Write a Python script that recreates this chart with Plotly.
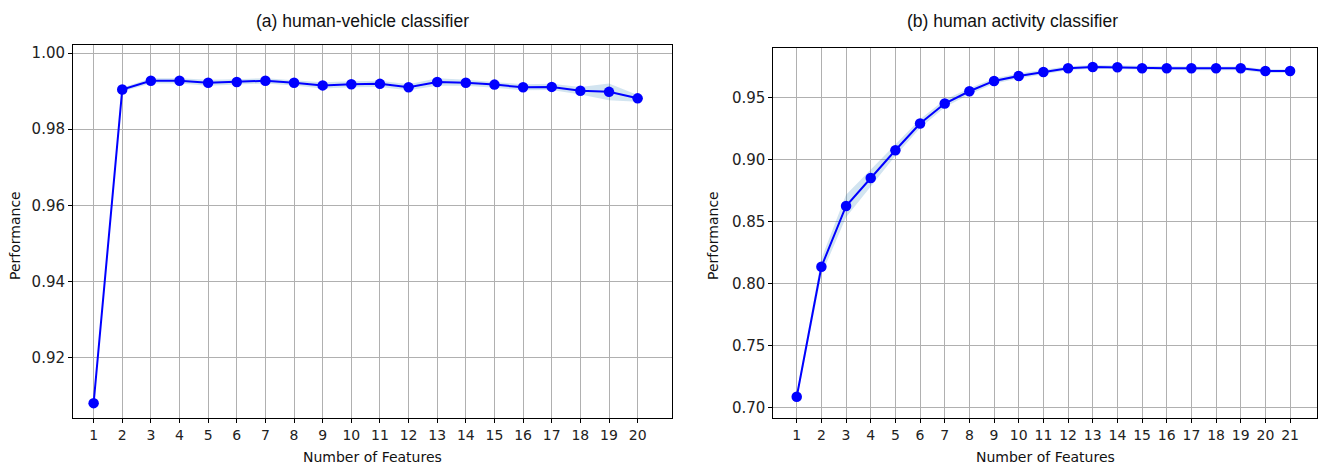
import plotly.graph_objects as go

# ---- data ----
features_a = list(range(1, 21))
perf_a = [0.9081, 0.9904, 0.9927, 0.9927, 0.9922, 0.9924, 0.9927, 0.9922, 0.9915, 0.9918,
          0.9919, 0.9910, 0.9924, 0.9922, 0.9917, 0.9910, 0.9911, 0.9901, 0.9898, 0.9881]
std_a = [0.0003, 0.0005, 0.0007, 0.0007, 0.0008, 0.0007, 0.0007, 0.0007, 0.0008, 0.0008,
         0.0008, 0.0008, 0.0010, 0.0008, 0.0008, 0.0008, 0.0008, 0.0010, 0.0022, 0.0009]

features_b = list(range(1, 22))
perf_b = [0.7089, 0.8136, 0.8625, 0.8850, 0.9074, 0.9289, 0.9450, 0.9549, 0.9632, 0.9672,
          0.9704, 0.9734, 0.9745, 0.9742, 0.9734, 0.9734, 0.9734, 0.9734, 0.9734, 0.9712, 0.9712]
std_b = [0.0030, 0.0065, 0.0090, 0.0070, 0.0045, 0.0035, 0.0030, 0.0025, 0.0022, 0.0020,
         0.0018, 0.0016, 0.0015, 0.0015, 0.0015, 0.0015, 0.0015, 0.0015, 0.0015, 0.0015, 0.0015]

title_a = "(a) human-vehicle classifier"
title_b = "(b) human activity classifier"
xlabel = "Number of Features"
ylabel = "Performance"
yticks_a = [0.92, 0.94, 0.96, 0.98, 1.00]
yticks_b = [0.70, 0.75, 0.80, 0.85, 0.90, 0.95]

LINE = "#0000ff"
BAND = "rgba(31,119,180,0.2)"

fig = go.Figure()

def add_panel(x, m, s, xa, ya):
    upper = [a + b for a, b in zip(m, s)]
    lower = [a - b for a, b in zip(m, s)]
    fig.add_trace(go.Scatter(x=x, y=upper, mode="lines", line=dict(width=0, color=BAND),
                             showlegend=False, hoverinfo="skip", xaxis=xa, yaxis=ya))
    fig.add_trace(go.Scatter(x=x, y=lower, mode="lines", line=dict(width=0, color=BAND),
                             fill="tonexty", fillcolor=BAND, showlegend=False,
                             hoverinfo="skip", xaxis=xa, yaxis=ya))
    fig.add_trace(go.Scatter(x=x, y=m, mode="lines+markers",
                             line=dict(color=LINE, width=2),
                             marker=dict(color=LINE, size=10.5),
                             showlegend=False, xaxis=xa, yaxis=ya))

add_panel(features_a, perf_a, std_a, "x", "y")
add_panel(features_b, perf_b, std_b, "x2", "y2")

W, H = 1320, 466
axis_common = dict(showline=True, mirror=True, linecolor="black", linewidth=1,
                   ticks="outside", ticklen=4, tickcolor="black",
                   showgrid=True, gridcolor="#b0b0b0", gridwidth=1, zeroline=False)
xfont = dict(family="DejaVu Sans", size=14, color="#222222")
yfont = dict(family="DejaVu Sans", size=15, color="#222222")

fig.update_layout(
    width=W, height=H,
    margin=dict(l=0, r=0, t=0, b=0),
    paper_bgcolor="white", plot_bgcolor="white",
    xaxis=dict(domain=[73 / W, 672 / W], range=[0.28, 21.2], tickmode="array",
               tickvals=features_a, ticktext=[str(v) for v in features_a], anchor="y",
               tickfont=xfont, **axis_common),
    yaxis=dict(domain=[(H - 418) / H, (H - 45) / H], range=[0.9042, 1.0021],
               tickmode="array", tickvals=yticks_a,
               ticktext=[f"{v:.2f}" for v in yticks_a], anchor="x",
               tickfont=yfont, **axis_common),
    xaxis2=dict(domain=[773.3 / W, 1316.7 / W], range=[0.05, 22.08], tickmode="array",
                tickvals=features_b, ticktext=[str(v) for v in features_b], anchor="y2",
                tickfont=xfont, **axis_common),
    yaxis2=dict(domain=[(H - 418.3) / H, (H - 48.3) / H], range=[0.6915, 0.9895],
                tickmode="array", tickvals=yticks_b,
                ticktext=[f"{v:.2f}" for v in yticks_b], anchor="x2",
                tickfont=yfont, **axis_common),
)

def ann(text, x, y, size, family, angle=0):
    fig.add_annotation(text=text, x=x / W, y=1 - y / H, xref="paper", yref="paper",
                       showarrow=False, textangle=angle, xanchor="center", yanchor="middle",
                       font=dict(family=family, size=size, color="#111111"))

ann(title_a, 362, 21, 17.5, "Liberation Sans, Arial")
ann(title_b, 1012, 21, 17.5, "Liberation Sans, Arial")
ann(xlabel, 372, 457, 14, "DejaVu Sans")
ann(xlabel, 1045, 457, 14, "DejaVu Sans")
ann(ylabel, 15, 236, 14, "DejaVu Sans", -90)
ann(ylabel, 713, 236, 14, "DejaVu Sans", -90)

fig.write_html("out.html", config={"displayModeBar": False},
               post_script="document.body.style.margin='0';document.body.style.overflow='hidden';")
